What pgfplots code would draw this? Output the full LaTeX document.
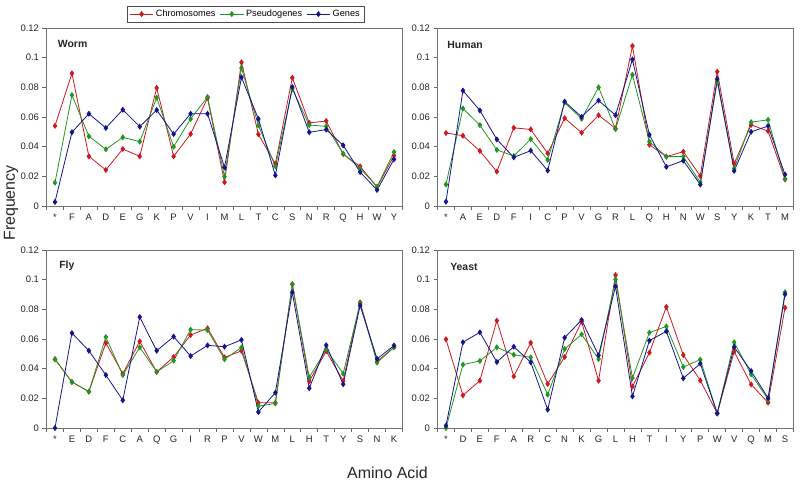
\documentclass[border=0pt]{standalone}
\usepackage{pgfplots}
\pgfplotsset{compat=1.18}
\usepackage{pgfplotstable}
\usepackage{fontspec}
\setmainfont{Liberation Sans}

\definecolor{cR}{RGB}{206,24,32}
\definecolor{cG}{RGB}{34,150,34}
\definecolor{cB}{RGB}{20,20,140}

% x  chrom  pseudo  genes
\pgfplotstableread{
x r g b
0 0.0540 0.0157 0.0027
1 0.0894 0.0748 0.0497
2 0.0335 0.0470 0.0622
3 0.0243 0.0382 0.0526
4 0.0384 0.0463 0.0649
5 0.0335 0.0434 0.0535
6 0.0796 0.0730 0.0647
7 0.0335 0.0400 0.0485
8 0.0485 0.0587 0.0622
9 0.0728 0.0735 0.0622
10 0.0160 0.0198 0.0260
11 0.0969 0.0930 0.0867
12 0.0483 0.0544 0.0587
13 0.0285 0.0267 0.0207
14 0.0865 0.0789 0.0802
15 0.0560 0.0546 0.0497
16 0.0573 0.0537 0.0515
17 0.0350 0.0353 0.0409
18 0.0267 0.0254 0.0229
19 0.0128 0.0130 0.0108
20 0.0340 0.0364 0.0315
}\worm

\pgfplotstableread{
x r g b
0 0.0492 0.0145 0.0029
1 0.0474 0.0657 0.0778
2 0.0371 0.0545 0.0644
3 0.0232 0.0378 0.0449
4 0.0527 0.0337 0.0328
5 0.0516 0.0451 0.0373
6 0.0355 0.0311 0.0239
7 0.0592 0.0697 0.0704
8 0.0494 0.0588 0.0601
9 0.0612 0.0800 0.0711
10 0.0523 0.0518 0.0612
11 0.1079 0.0885 0.0988
12 0.0413 0.0434 0.0480
13 0.0333 0.0333 0.0264
14 0.0366 0.0333 0.0306
15 0.0203 0.0160 0.0145
16 0.0905 0.0838 0.0856
17 0.0286 0.0253 0.0237
18 0.0547 0.0565 0.0500
19 0.0505 0.0581 0.0539
20 0.0179 0.0183 0.0212
}\human

\pgfplotstableread{
x r g b
0 0.0463 0.0465 0.0000
1 0.0310 0.0310 0.0640
2 0.0245 0.0245 0.0521
3 0.0573 0.0613 0.0357
4 0.0366 0.0357 0.0187
5 0.0584 0.0544 0.0748
6 0.0378 0.0378 0.0521
7 0.0479 0.0454 0.0616
8 0.0627 0.0663 0.0485
9 0.0672 0.0660 0.0557
10 0.0476 0.0463 0.0548
11 0.0520 0.0543 0.0594
12 0.0170 0.0148 0.0108
13 0.0170 0.0165 0.0238
14 0.0968 0.0970 0.0915
15 0.0315 0.0342 0.0268
16 0.0518 0.0529 0.0558
17 0.0317 0.0367 0.0295
18 0.0847 0.0840 0.0826
19 0.0448 0.0441 0.0466
20 0.0545 0.0543 0.0556
}\fly

\pgfplotstableread{
x r g b
0 0.0598 0.0000 0.0016
1 0.0220 0.0427 0.0578
2 0.0319 0.0452 0.0645
3 0.0724 0.0544 0.0445
4 0.0348 0.0494 0.0548
5 0.0575 0.0476 0.0443
6 0.0297 0.0225 0.0124
7 0.0479 0.0533 0.0609
8 0.0717 0.0631 0.0728
9 0.0319 0.0465 0.0490
10 0.1031 0.1002 0.0955
11 0.0279 0.0337 0.0213
12 0.0508 0.0643 0.0589
13 0.0816 0.0685 0.0652
14 0.0492 0.0411 0.0335
15 0.0321 0.0461 0.0434
16 0.0099 0.0099 0.0099
17 0.0515 0.0578 0.0546
18 0.0294 0.0362 0.0384
19 0.0171 0.0193 0.0202
20 0.0811 0.0915 0.0901
}\yeast

\pgfplotsset{
  panel/.style={
    scale only axis, width=356bp, height=178bp,
    xmin=-0.5, xmax=20.5, ymin=0, ymax=0.12,
    ytick={0,0.02,0.04,0.06,0.08,0.1,0.12},
    yticklabels={0,0.02,0.04,0.06,0.08,0.1,0.12},
    xtick={-0.5,0.5,...,20.5}, xticklabels={},
    extra x ticks={0,1,...,20},
    extra x tick style={tick style={draw=none}},
    tick align=outside, major tick length=4bp,
    tick style={black!60, line width=0.6bp},
    axis line style={black!55, line width=0.7bp},
    ytick pos=left, xtick pos=bottom,
    tick label style={font=\fontsize{9.5}{11}\selectfont, text=black!85},
    every axis plot/.append style={line width=0.8bp, mark=diamond*, mark size=2.4bp},
    clip=false,
  },
}
\tikzset{ptitle/.style={anchor=west, font=\bfseries\fontsize{10.5}{12}\selectfont, text=black!85}}

\begin{document}
\begin{tikzpicture}
\useasboundingbox (0,0) rectangle (800bp,484bp);

% Worm
\begin{axis}[panel, at={(46.5bp,278bp)}, anchor=south west,
  extra x tick labels={*,F,A,D,E,G,K,P,V,I,M,L,T,C,S,N,R,Q,H,W,Y},
  legend columns=3,
  legend style={at={(0.559,1.03)}, anchor=south, draw=black!70, line width=0.6bp,
    font=\fontsize{9.2}{10}\selectfont, inner sep=2.2bp,
    /tikz/every even column/.append style={column sep=2bp}},
  legend image code/.code={\draw[mark repeat=2,mark phase=2] plot coordinates {(0cm,0cm) (0.42cm,0cm) (0.84cm,0cm)};},
]
\addplot[cR, mark options={fill=cR}] table[x=x,y=r] {\worm};
\addlegendentry{Chromosomes}
\addplot[cG, mark options={fill=cG}] table[x=x,y=g] {\worm};
\addlegendentry{Pseudogenes}
\addplot[cB, mark options={fill=cB}] table[x=x,y=b] {\worm};
\addlegendentry{Genes}
\node[ptitle] at (rel axis cs:0.022,0.912) {Worm};
\end{axis}

% Human
\begin{axis}[panel, at={(437.5bp,278bp)}, anchor=south west,
  extra x tick labels={*,A,E,D,F,I,C,P,V,G,R,L,Q,H,N,W,S,Y,K,T,M}]
\addplot[cR, mark options={fill=cR}] table[x=x,y=r] {\human};
\addplot[cG, mark options={fill=cG}] table[x=x,y=g] {\human};
\addplot[cB, mark options={fill=cB}] table[x=x,y=b] {\human};
\node[ptitle] at (rel axis cs:0.018,0.905) {Human};
\end{axis}

% Fly
\begin{axis}[panel, at={(46.5bp,56bp)}, anchor=south west,
  extra x tick labels={*,E,D,F,C,A,Q,G,I,R,P,V,W,M,L,H,T,Y,S,N,K}]
\addplot[cR, mark options={fill=cR}] table[x=x,y=r] {\fly};
\addplot[cG, mark options={fill=cG}] table[x=x,y=g] {\fly};
\addplot[cB, mark options={fill=cB}] table[x=x,y=b] {\fly};
\node[ptitle] at (rel axis cs:0.026,0.91) {Fly};
\end{axis}

% Yeast
\begin{axis}[panel, at={(437.5bp,56bp)}, anchor=south west,
  extra x tick labels={*,D,E,F,A,R,C,N,K,G,L,H,T,I,Y,P,W,V,Q,M,S}]
\addplot[cR, mark options={fill=cR}] table[x=x,y=r] {\yeast};
\addplot[cG, mark options={fill=cG}] table[x=x,y=g] {\yeast};
\addplot[cB, mark options={fill=cB}] table[x=x,y=b] {\yeast};
\node[ptitle] at (rel axis cs:0.026,0.905) {Yeast};
\end{axis}

\node[rotate=90, font=\fontsize{16}{18}\selectfont, text=black!85] at (11bp,281bp) {Frequency};
\node[font=\fontsize{16}{18}\selectfont, text=black!85] at (387.5bp,11bp) {Amino Acid};
\end{tikzpicture}
\end{document}
